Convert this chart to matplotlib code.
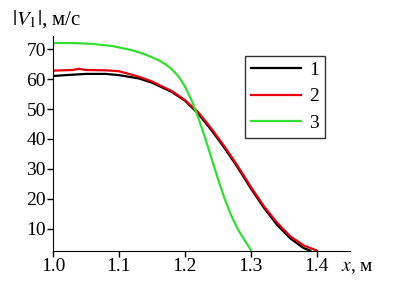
import matplotlib
matplotlib.use("Agg")
import matplotlib.pyplot as plt

plt.rcParams['font.family'] = ['Liberation Serif', 'DejaVu Serif']
plt.rcParams['mathtext.fontset'] = 'stix'

# values
x1 = [1.0, 1.02, 1.05, 1.08, 1.10, 1.13, 1.15, 1.18, 1.20, 1.22, 1.24, 1.26, 1.28, 1.30, 1.32, 1.34, 1.36, 1.38, 1.39]
v1 = [61.0, 61.3, 61.7, 61.7, 61.3, 60.2, 58.8, 55.7, 52.8, 48.5, 43.0, 37.0, 30.5, 23.5, 17.0, 11.3, 6.8, 3.6, 2.8]
x2 = [1.0, 1.03, 1.04, 1.05, 1.08, 1.10, 1.13, 1.15, 1.18, 1.20, 1.22, 1.24, 1.26, 1.28, 1.30, 1.32, 1.34, 1.36, 1.38, 1.40]
v2 = [62.8, 63.0, 63.4, 63.0, 62.9, 62.6, 60.8, 59.2, 56.0, 53.0, 49.0, 43.5, 37.5, 31.0, 24.0, 17.5, 12.0, 7.5, 4.5, 2.8]
x3 = [1.0, 1.03, 1.06, 1.09, 1.12, 1.14, 1.16, 1.17, 1.18, 1.19, 1.20, 1.21, 1.22, 1.23, 1.24, 1.25, 1.26, 1.27, 1.28, 1.29, 1.30]
v3 = [72.0, 72.0, 71.7, 71.0, 69.6, 68.2, 66.3, 65.0, 63.3, 61.0, 57.6, 53.0, 47.3, 40.8, 33.8, 26.8, 20.2, 14.6, 10.0, 6.4, 3.0]
labels = ['1', '2', '3']
colors = ['#000000', '#e8000b', '#33dd33']
yticks = [10, 20, 30, 40, 50, 60, 70]
xticks = [1.0, 1.1, 1.2, 1.3, 1.4]

fig = plt.figure(figsize=(4.04, 2.89), dpi=100)
ax = fig.add_axes([0.131, 0.132, 0.735, 0.743])

for xs, vs, lab, c in zip([x1, x2, x3], [v1, v2, v3], labels, colors):
    ax.plot(xs, vs, color=c, lw=1.6, label=lab)

ax.set_xlim(1.0, 1.45)
ax.set_ylim(2.7, 74.3)
ax.set_xticks(xticks)
ax.set_xticklabels(['1.0', '1.1', '1.2', '1.3', '1.4'])
ax.set_yticks(yticks)
ax.spines['top'].set_visible(False)
ax.spines['right'].set_visible(False)
ax.tick_params(labelsize=14, length=4, width=1, pad=1)

fig.text(0.03, 0.935, r'$|V_1|$, м/с', fontsize=15, ha='left', va='center')
fig.text(0.845, 0.075, r'$x$, м', fontsize=14, ha='left', va='center')

leg = ax.legend(loc='upper left', bbox_to_anchor=(0.613, 0.955), fontsize=14,
                frameon=True, fancybox=False, edgecolor='black',
                handlelength=2.6, labelspacing=0.45, borderpad=0.3,
                handletextpad=0.4)
leg.get_frame().set_linewidth(1.0)

fig.savefig('out.png', dpi=100)
